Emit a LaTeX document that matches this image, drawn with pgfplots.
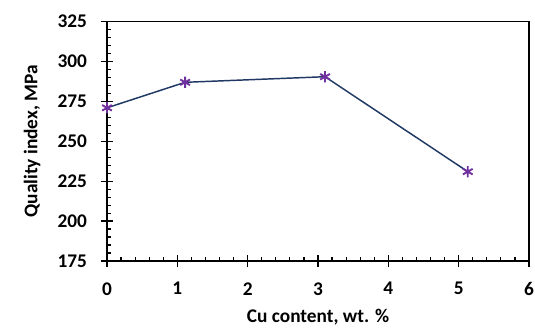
\documentclass[border=0pt]{standalone}
\usepackage{pgfplots}
\pgfplotsset{compat=1.18}
\usepackage{fontspec}
\setmainfont{Carlito}
\definecolor{linec}{HTML}{203864}
\definecolor{markc}{HTML}{7030A0}
\begin{document}
\begin{tikzpicture}
\path[use as bounding box] (-80.25pt,-51pt) rectangle (321pt,195.75pt);
\begin{axis}[
  at={(0pt,0pt)}, anchor=south west,
  scale only axis,
  width=316.5pt, height=179.5pt,
  xmin=0, xmax=6, ymin=175, ymax=325,
  xtick={0,1,...,6}, ytick={175,200,...,325},
  minor x tick num=4, minor y tick num=4,
  tick pos=left,
  tick align=center,
  major tick length=9pt,
  minor tick length=3.2pt,
  minor x tick style={yshift=1.6pt},
  minor y tick style={xshift=1.6pt},
  major tick style={black, line width=1pt},
  minor tick style={black, line width=0.9pt},
  axis line style={black, line width=1pt},
  /pgf/number format/assume math mode=true,
  ticklabel style={font=\bfseries\fontsize{14.5pt}{17pt}\selectfont},
  label style={font=\bfseries\fontsize{14.5pt}{17pt}\selectfont},
  xticklabel style={yshift=-8pt},
  yticklabel style={xshift=-7pt},
  xlabel={Cu content, wt. \%},
  ylabel={Quality index, MPa},
  xlabel style={yshift=-3pt},
  ylabel style={yshift=6pt},
  /pgf/number format/.cd, 1000 sep={},
]
\addplot[color=linec, line width=1.1pt, mark=asterisk, mark size=4.2pt,
  mark options={color=markc, line width=1.4pt}]
  coordinates {(0,271) (1.11,287) (3.1,290.5) (5.13,231)};
\end{axis}
\end{tikzpicture}
\end{document}
